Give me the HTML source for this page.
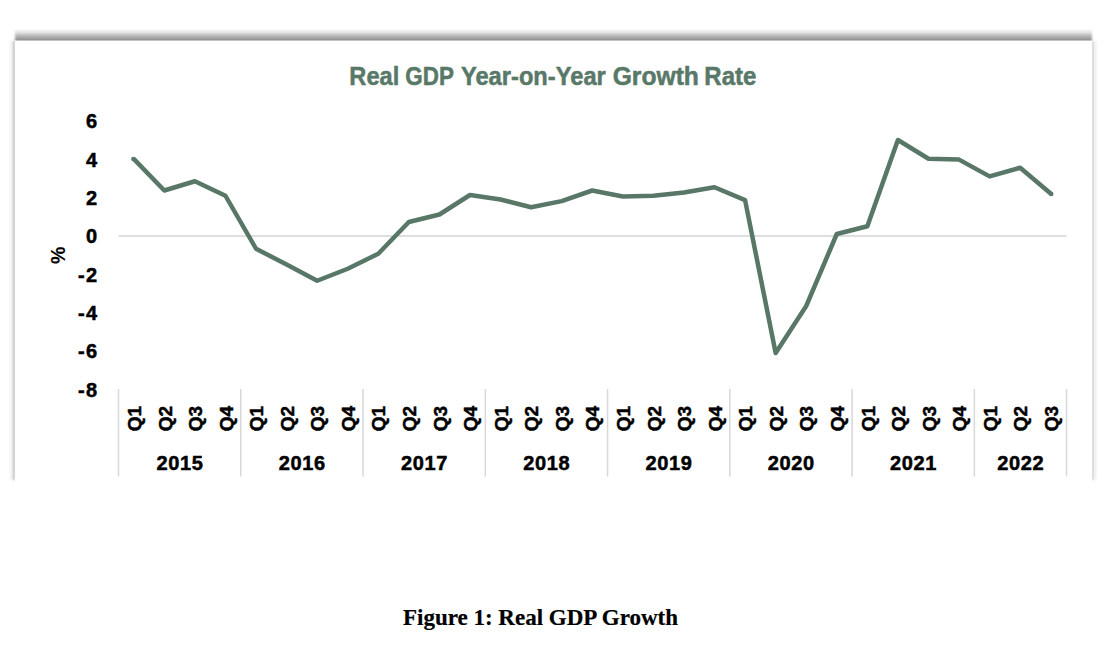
<!DOCTYPE html>
<html><head><meta charset="utf-8"><style>
html,body{margin:0;padding:0;background:#fff;width:1120px;height:665px;overflow:hidden}
svg{display:block}
text{font-family:"Liberation Sans",sans-serif;font-weight:bold;fill:#000;stroke:#000;stroke-width:0.5}
.q{font-size:19px;text-anchor:middle}
.yr{font-size:20px;text-anchor:middle;letter-spacing:0.6px}
.yl{font-size:20px;text-anchor:end}
.sep{stroke:#d8d8d8;stroke-width:1.5}
.title{font-size:25px;fill:#587868;stroke:#587868;stroke-width:0.5}
.cap{font-family:"Liberation Serif",serif;font-size:23px;stroke-width:0.2;text-anchor:middle}
</style></head><body>
<svg width="1120" height="665" viewBox="0 0 1120 665">
<defs>
<linearGradient id="sh" x1="0" y1="29" x2="0" y2="40.8" gradientUnits="userSpaceOnUse">
<stop offset="0" stop-color="#fff"/>
<stop offset="0.13" stop-color="#f0f0f0"/>
<stop offset="0.34" stop-color="#dedede"/>
<stop offset="0.48" stop-color="#c4c4c4"/>
<stop offset="0.64" stop-color="#b2b2b2"/>
<stop offset="0.85" stop-color="#9a9a9a"/>
<stop offset="0.93" stop-color="#939393"/>
<stop offset="1" stop-color="#c8c8c8"/>
</linearGradient>
<linearGradient id="lg" x1="0" y1="0" x2="1" y2="0"><stop offset="0" stop-color="#fff"/><stop offset="1" stop-color="#ededed"/></linearGradient>
<linearGradient id="rg" x1="0" y1="0" x2="1" y2="0"><stop offset="0" stop-color="#f0f0f0"/><stop offset="1" stop-color="#fff"/></linearGradient>
<filter id="bl" x="-1%" y="-50%" width="102%" height="200%"><feGaussianBlur stdDeviation="1.2 0.3"/></filter>
<filter id="bl2" x="-200%" y="-1%" width="500%" height="102%"><feGaussianBlur stdDeviation="0.5 0.8"/></filter>
</defs>
<rect x="15" y="29" width="1077" height="11.8" fill="url(#sh)" filter="url(#bl)"/>
<g filter="url(#bl2)">
<rect x="8" y="41" width="5" height="439" fill="url(#lg)"/>
<rect x="12.5" y="41" width="2.5" height="439" fill="#d4d4d4"/>
<rect x="1092" y="41" width="2.5" height="439" fill="#dedede"/>
<rect x="1094.5" y="41" width="4" height="439" fill="url(#rg)"/>
</g>
<text class="title" transform="translate(349.36,84.75) scale(0.9439,1)">Real</text>
<text class="title" transform="translate(405.35,84.75) scale(0.8962,1)">GDP</text>
<text class="title" transform="translate(460.95,84.75) scale(0.9480,1)">Year-on-Year</text>
<text class="title" transform="translate(612.71,84.75) scale(0.9859,1)">Growth</text>
<text class="title" transform="translate(704.33,84.75) scale(0.9608,1)">Rate</text>
<line x1="118.5" y1="236" x2="1066.5" y2="236" stroke="#dedede" stroke-width="2"/>
<line x1="118.50" y1="389" x2="118.50" y2="476.5" class="sep"/>
<line x1="240.77" y1="389" x2="240.77" y2="476.5" class="sep"/>
<line x1="363.03" y1="389" x2="363.03" y2="476.5" class="sep"/>
<line x1="485.30" y1="389" x2="485.30" y2="476.5" class="sep"/>
<line x1="607.57" y1="389" x2="607.57" y2="476.5" class="sep"/>
<line x1="729.83" y1="389" x2="729.83" y2="476.5" class="sep"/>
<line x1="852.10" y1="389" x2="852.10" y2="476.5" class="sep"/>
<line x1="974.37" y1="389" x2="974.37" y2="476.5" class="sep"/>
<line x1="1066.50" y1="389" x2="1066.50" y2="476.5" class="sep"/>
<circle cx="133.35" cy="158.9" r="2.25" fill="#587767"/>
<circle cx="1051.25" cy="194" r="2.25" fill="#587767"/>
<polyline points="133.75,158.90 164.32,190.50 194.88,181.25 225.45,195.75 256.02,248.75 286.58,264.50 317.15,280.75 347.72,268.75 378.28,253.75 408.85,222.00 439.42,214.50 469.98,195.00 500.55,199.50 531.12,207.30 561.68,201.10 592.25,190.50 622.82,196.50 653.38,195.75 683.95,192.50 714.52,187.25 745.08,200.10 775.65,353.00 806.22,306.00 836.78,234.00 867.35,226.25 897.92,140.00 928.48,158.75 959.05,159.60 989.62,176.40 1020.18,167.75 1051.25,194.00" fill="none" stroke="#587767" stroke-width="4.5" stroke-linejoin="round" stroke-linecap="butt"/>
<text x="97" y="128.42" class="yl">6</text>
<text x="97" y="166.73" class="yl">4</text>
<text x="97" y="205.04" class="yl">2</text>
<text x="97" y="243.35" class="yl">0</text>
<text x="97" y="281.66" class="yl"><tspan>-</tspan><tspan dx="1.2">2</tspan></text>
<text x="97" y="319.97" class="yl"><tspan>-</tspan><tspan dx="1.2">4</tspan></text>
<text x="97" y="358.28" class="yl"><tspan>-</tspan><tspan dx="1.2">6</tspan></text>
<text x="97" y="396.59" class="yl"><tspan>-</tspan><tspan dx="1.2">8</tspan></text>
<text transform="translate(65,255.3) rotate(-90)" class="q" style="font-size:19.5px;stroke-width:0.1">%</text>
<text transform="translate(140.95,418.5) rotate(-90)" class="q">Q1</text>
<text transform="translate(171.52,418.5) rotate(-90)" class="q">Q2</text>
<text transform="translate(202.08,418.5) rotate(-90)" class="q">Q3</text>
<text transform="translate(232.65,418.5) rotate(-90)" class="q">Q4</text>
<text transform="translate(263.22,418.5) rotate(-90)" class="q">Q1</text>
<text transform="translate(293.78,418.5) rotate(-90)" class="q">Q2</text>
<text transform="translate(324.35,418.5) rotate(-90)" class="q">Q3</text>
<text transform="translate(354.92,418.5) rotate(-90)" class="q">Q4</text>
<text transform="translate(385.48,418.5) rotate(-90)" class="q">Q1</text>
<text transform="translate(416.05,418.5) rotate(-90)" class="q">Q2</text>
<text transform="translate(446.62,418.5) rotate(-90)" class="q">Q3</text>
<text transform="translate(477.18,418.5) rotate(-90)" class="q">Q4</text>
<text transform="translate(507.75,418.5) rotate(-90)" class="q">Q1</text>
<text transform="translate(538.32,418.5) rotate(-90)" class="q">Q2</text>
<text transform="translate(568.88,418.5) rotate(-90)" class="q">Q3</text>
<text transform="translate(599.45,418.5) rotate(-90)" class="q">Q4</text>
<text transform="translate(630.02,418.5) rotate(-90)" class="q">Q1</text>
<text transform="translate(660.58,418.5) rotate(-90)" class="q">Q2</text>
<text transform="translate(691.15,418.5) rotate(-90)" class="q">Q3</text>
<text transform="translate(721.72,418.5) rotate(-90)" class="q">Q4</text>
<text transform="translate(752.28,418.5) rotate(-90)" class="q">Q1</text>
<text transform="translate(782.85,418.5) rotate(-90)" class="q">Q2</text>
<text transform="translate(813.42,418.5) rotate(-90)" class="q">Q3</text>
<text transform="translate(843.98,418.5) rotate(-90)" class="q">Q4</text>
<text transform="translate(874.55,418.5) rotate(-90)" class="q">Q1</text>
<text transform="translate(905.12,418.5) rotate(-90)" class="q">Q2</text>
<text transform="translate(935.68,418.5) rotate(-90)" class="q">Q3</text>
<text transform="translate(966.25,418.5) rotate(-90)" class="q">Q4</text>
<text transform="translate(996.82,418.5) rotate(-90)" class="q">Q1</text>
<text transform="translate(1027.38,418.5) rotate(-90)" class="q">Q2</text>
<text transform="translate(1057.95,418.5) rotate(-90)" class="q">Q3</text>
<text x="179.93" y="470" class="yr">2015</text>
<text x="302.20" y="470" class="yr">2016</text>
<text x="424.47" y="470" class="yr">2017</text>
<text x="546.73" y="470" class="yr">2018</text>
<text x="669.00" y="470" class="yr">2019</text>
<text x="791.27" y="470" class="yr">2020</text>
<text x="913.53" y="470" class="yr">2021</text>
<text x="1020.73" y="470" class="yr">2022</text>
<text x="540.5" y="625" class="cap">Figure 1: Real GDP Growth</text>
</svg>
</body></html>
